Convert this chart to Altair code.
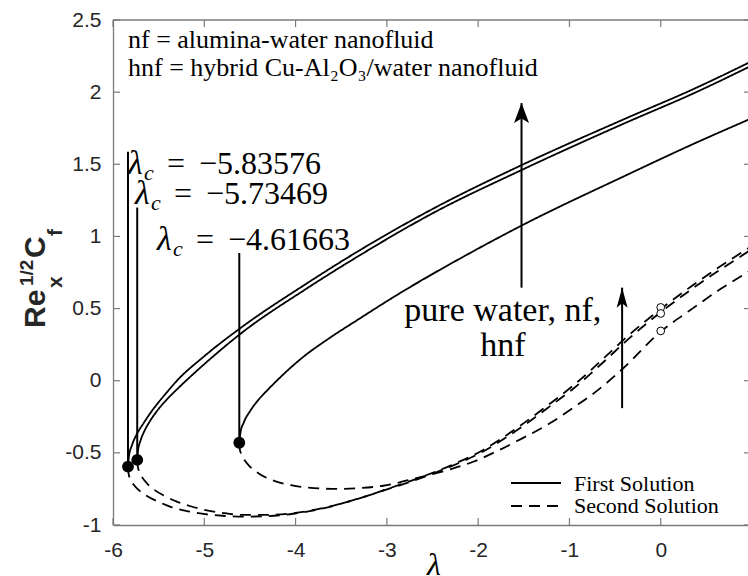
import altair as alt
import pandas as pd

W, H = 635, 505
XMIN, XMAX = -6, 0.956
YMIN, YMAX = -1, 2.5

# ---------------- data ----------------
# first solutions (solid)
hnf_first_lam = [-5.83576, -5.8245, -5.794, -5.747, -5.668, -5.563, -5.436, -5.30, -5.0, -4.61, -3.9, -3.295, -2.5, -1.525, -0.375, 0.354, 1.0]
hnf_first_cf = [-0.595, -0.52, -0.45, -0.38, -0.297, -0.20, -0.10, 0.0, 0.17, 0.362, 0.665, 0.905, 1.19, 1.494, 1.82, 2.02, 2.215]
nf_first_lam = [-5.73469, -5.725, -5.701, -5.657, -5.595, -5.506, -5.41, -5.30, -5.2, -4.9, -4.61, -3.9, -3.295, -2.5, -1.525, -0.375, 0.354, 1.0]
nf_first_cf = [-0.549, -0.48, -0.42, -0.35, -0.28, -0.20, -0.13, -0.06, 0.0, 0.17, 0.322, 0.63, 0.87, 1.16, 1.46, 1.79, 1.99, 2.185]
water_first_lam = [-4.61663, -4.604, -4.568, -4.498, -4.41, -4.30, -4.206, -3.916, -3.63, -3.3, -2.967, -2.06, -1.525, -0.375, 0.354, 1.0]
water_first_cf = [-0.43, -0.36, -0.29, -0.21, -0.135, -0.06, 0.0, 0.165, 0.295, 0.43, 0.564, 0.895, 1.075, 1.425, 1.64, 1.82]

# second solutions (dashed)
hnf_second_lam = [-5.83576, -5.830, -5.812, -5.775, -5.72, -5.64, -5.50, -5.376, -5.2, -5.047, -4.8, -4.573, -4.3, -4.026, -3.7, -3.3, -3.04, -2.675, -2.31, -1.945, -1.58, -1.215, -0.952, -0.6, -0.405, 0.0, 0.325, 1.0]
hnf_second_cf = [-0.595, -0.64, -0.68, -0.72, -0.757, -0.795, -0.84, -0.872, -0.902, -0.92, -0.936, -0.942, -0.938, -0.922, -0.885, -0.815, -0.76, -0.68, -0.59, -0.48, -0.33, -0.16, -0.03, 0.17, 0.285, 0.497, 0.65, 0.935]
nf_second_lam = [-5.73469, -5.729, -5.713, -5.68, -5.63, -5.55, -5.43, -5.30, -5.15, -5.01, -4.8, -4.573, -4.3, -4.026, -3.7, -3.3, -3.04, -2.675, -2.31, -1.945, -1.58, -1.215, -0.952, -0.6, -0.405, 0.0, 0.325, 1.0]
nf_second_cf = [-0.549, -0.59, -0.63, -0.67, -0.71, -0.755, -0.80, -0.838, -0.87, -0.893, -0.916, -0.93, -0.93, -0.918, -0.882, -0.815, -0.762, -0.685, -0.597, -0.49, -0.345, -0.178, -0.052, 0.145, 0.26, 0.475, 0.628, 0.912]
water_second_lam = [-4.61663, -4.612, -4.595, -4.56, -4.50, -4.40, -4.25, -4.05, -3.8, -3.55, -3.3, -3.04, -2.675, -2.31, -2.047, -1.8, -1.58, -1.215, -0.952, -0.668, -0.405, 0.0, 0.325, 0.654, 1.0]
water_second_cf = [-0.43, -0.47, -0.51, -0.55, -0.595, -0.645, -0.69, -0.724, -0.744, -0.75, -0.744, -0.728, -0.675, -0.615, -0.56, -0.49, -0.42, -0.295, -0.185, -0.055, 0.09, 0.34, 0.49, 0.635, 0.77]

# critical points
crit_lam = [-5.83576, -5.73469, -4.61663]
crit_cf = [-0.595, -0.549, -0.43]
crit_label_top = [1.587, 1.20, 0.885]
crit_text = ["−5.83576", "−5.73469", "−4.61663"]
crit_text_lam = [-5.836, -5.759, -5.518]
crit_text_cf = [1.432, 1.224, 0.905]

# open circles at lambda = 0
circ_lam = [0.0, 0.0, 0.0]
circ_cf = [0.508, 0.466, 0.345]

# arrows: x position, tail, tip
arrow_lam = [-1.525, -0.423]
arrow_tail = [0.645, -0.19]
arrow_tip = [1.924, 0.645]

x_ticks = [-6, -5, -4, -3, -2, -1, 0]
y_ticks = [-1, -0.5, 0, 0.5, 1, 1.5, 2, 2.5]

info_lines = ["nf = alumina-water nanofluid", "hnf = hybrid Cu-Al₂O₃/water nanofluid"]
info_cf = [2.306, 2.111]
fluid_lines = ["pure water, nf,", "hnf"]
fluid_cf = [0.413, 0.17]
legend_labels = ["First Solution", "Second Solution"]

# ---------------- tables ----------------
rows = []
for name, kind, xs, ys in [
    ("hnf", "First", hnf_first_lam, hnf_first_cf),
    ("nf", "First", nf_first_lam, nf_first_cf),
    ("water", "First", water_first_lam, water_first_cf),
    ("hnf", "Second", hnf_second_lam, hnf_second_cf),
    ("nf", "Second", nf_second_lam, nf_second_cf),
    ("water", "Second", water_second_lam, water_second_cf),
]:
    for i, (a, b) in enumerate(zip(xs, ys)):
        rows.append(dict(lam=a, cf=b, kind=kind, curve=name + "-" + kind, order=i))
curves = pd.DataFrame(rows)

crit = pd.DataFrame(dict(lam=crit_lam, cf=crit_cf, cf2=crit_label_top))
crit_txt = pd.DataFrame(dict(lam=crit_text_lam, cf=crit_text_cf, text=crit_text))
circ = pd.DataFrame(dict(lam=circ_lam, cf=circ_cf))
shafts = pd.DataFrame(dict(lam=arrow_lam, cf=arrow_tail, cf2=arrow_tip))
head_big_df = pd.DataFrame(dict(lam=arrow_lam[:1], cf=arrow_tip[:1]))
head_small_df = pd.DataFrame(dict(lam=arrow_lam[1:], cf=arrow_tip[1:]))
xt = pd.DataFrame(dict(lam=x_ticks))
yt = pd.DataFrame(dict(cf=y_ticks))
info = pd.DataFrame(dict(lam=[-5.836] * 2, cf=info_cf, text=info_lines))
fluid = pd.DataFrame(dict(lam=[-1.73] * 2, cf=fluid_cf, text=fluid_lines))
one = pd.DataFrame(dict(a=[0]))

AXC = "#7a7a7a"
TXC = "#262626"
xscale = alt.Scale(domain=[XMIN, XMAX], nice=False, zero=False)
yscale = alt.Scale(domain=[YMIN, YMAX], nice=False, zero=False)
X = alt.X("lam:Q", scale=xscale, title=None,
          axis=alt.Axis(values=x_ticks, ticks=False, tickSize=0, grid=False, format="~g",
                        labelFont="Liberation Sans", labelFontSize=21, labelColor=TXC,
                        labelPadding=14, domainColor=AXC, domainWidth=1.3,
                        labelExpr="replace(datum.label, '−', '-')", labelFlush=False))
Y = alt.Y("cf:Q", scale=yscale, title=None,
          axis=alt.Axis(values=y_ticks, ticks=False, tickSize=0, grid=False, format="~g",
                        labelFont="Liberation Sans", labelFontSize=21, labelColor=TXC,
                        labelPadding=12, domainColor=AXC, domainWidth=1.3,
                        labelExpr="replace(datum.label, '−', '-')", labelFlush=False))

lines = alt.Chart(curves).mark_line(strokeWidth=1.8, color="black", clip=True, interpolate="monotone").encode(
    x=X, y=Y, detail="curve:N", order="order:Q",
    strokeDash=alt.StrokeDash("kind:N", scale=alt.Scale(domain=["First", "Second"], range=[[1, 0], [11, 7]]), legend=None),
)

crit_lines = alt.Chart(crit).mark_rule(color="black", strokeWidth=2).encode(x=X, y=Y, y2="cf2:Q")
crit_dots = alt.Chart(crit).mark_point(shape="circle", filled=True, fill="black", opacity=1, size=140, strokeWidth=0).encode(x=X, y=Y)
circles = alt.Chart(circ).mark_point(shape="circle", filled=True, fill="white", stroke="black", strokeWidth=1, opacity=1, size=60).encode(x=X, y=Y)

lam_sym = alt.Chart(crit_txt).mark_text(text="λ", font="Liberation Serif", fontStyle="italic", fontSize=34, align="left", baseline="alphabetic", color="black").encode(x=X, y=Y)
lam_sub = alt.Chart(crit_txt).mark_text(text="c", font="Liberation Serif", fontStyle="italic", fontSize=22, align="left", baseline="alphabetic", dx=16, dy=6, color="black").encode(x=X, y=Y)
lam_eq = alt.Chart(crit_txt).mark_text(text="=", font="Liberation Serif", fontSize=32, align="center", baseline="alphabetic", dx=48, color="black").encode(x=X, y=Y)
lam_val = alt.Chart(crit_txt).mark_text(font="Liberation Serif", fontSize=32, align="left", baseline="alphabetic", dx=71, color="black").encode(x=X, y=Y, text="text:N")

shaft = alt.Chart(shafts).mark_rule(color="black", strokeWidth=2).encode(x=X, y=Y, y2="cf2:Q")
head_big = alt.Chart(head_big_df).mark_point(shape="M0,-1L0.75,1L0,0.55L-0.75,1Z", filled=True, fill="black", opacity=1, size=400, strokeWidth=0, yOffset=10).encode(x=X, y=Y)
head_small = alt.Chart(head_small_df).mark_point(shape="M0,-1L0.55,1L0,0.55L-0.55,1Z", filled=True, fill="black", opacity=1, size=400, strokeWidth=0, yOffset=10).encode(x=X, y=Y)

info_txt = alt.Chart(info).mark_text(font="Liberation Serif", fontSize=26, align="left", baseline="alphabetic", color="black").encode(x=X, y=Y, text="text:N")
fluid_txt = alt.Chart(fluid).mark_text(font="Liberation Serif", fontSize=34, align="center", baseline="alphabetic", color="black").encode(x=X, y=Y, text="text:N")

# inward ticks
tick_b = alt.Chart(xt).mark_rule(color=AXC, strokeWidth=1.2).encode(x=X, y=alt.value(H), y2=alt.value(H - 7))
tick_t = alt.Chart(xt).mark_rule(color=AXC, strokeWidth=1.2).encode(x=X, y=alt.value(0), y2=alt.value(7))
tick_l = alt.Chart(yt).mark_rule(color=AXC, strokeWidth=1.2).encode(y=Y, x=alt.value(0), x2=alt.value(7))
tick_r = alt.Chart(yt).mark_rule(color=AXC, strokeWidth=1.2).encode(y=Y, x=alt.value(W - 4), x2=alt.value(W))
top_border = alt.Chart(one).mark_rule(color=AXC, strokeWidth=1.3).encode(x=alt.value(0), x2=alt.value(W), y=alt.value(0))

# legend
leg_solid = alt.Chart(one).mark_rule(color="black", strokeWidth=1.8).encode(x=alt.value(398), x2=alt.value(448), y=alt.value(463))
leg_dash = alt.Chart(one).mark_rule(color="black", strokeWidth=1.8, strokeDash=[11, 7]).encode(x=alt.value(398), x2=alt.value(448), y=alt.value(486))
leg_t1 = alt.Chart(one).mark_text(text=legend_labels[0], font="Liberation Serif", fontSize=22, align="left", baseline="alphabetic", color="black").encode(x=alt.value(461), y=alt.value(471))
leg_t2 = alt.Chart(one).mark_text(text=legend_labels[1], font="Liberation Serif", fontSize=22, align="left", baseline="alphabetic", color="black").encode(x=alt.value(461), y=alt.value(493))

# axis titles
def ytitle(txt, size, xb, yb):
    return alt.Chart(one).mark_text(text=txt, font="Liberation Sans", fontWeight="bold", fontSize=size, angle=270,
                                    align="left", baseline="alphabetic", color=TXC).encode(x=alt.value(xb), y=alt.value(yb))

yt_re = ytitle("Re", 30, -68, 308)
yt_x = ytitle("x", 21, -51, 268)
yt_half = ytitle("1/2", 19, -80, 266)
yt_c = ytitle("C", 30, -68, 238)
yt_f = ytitle("f", 21, -51, 216)
xtitle = alt.Chart(one).mark_text(text="λ", font="Liberation Serif", fontStyle="italic", fontSize=32, align="center",
                                  baseline="alphabetic", color="black").encode(x=alt.value(321), y=alt.value(555))

chart = alt.layer(
    lines, crit_lines, crit_dots, circles,
    lam_sym, lam_sub, lam_eq, lam_val,
    shaft, head_big, head_small,
    info_txt, fluid_txt,
    tick_b, tick_t, tick_l, tick_r, top_border,
    leg_solid, leg_dash, leg_t1, leg_t2,
    yt_re, yt_x, yt_half, yt_c, yt_f, xtitle,
).properties(
    width=W, height=H,
    autosize=alt.AutoSizeParams(type="none"),
    padding={"left": 113, "top": 20, "right": 0, "bottom": 51},
    background="white",
).configure_view(stroke=None)

chart.save("out.html", embed_options={"renderer": "svg", "actions": False})
